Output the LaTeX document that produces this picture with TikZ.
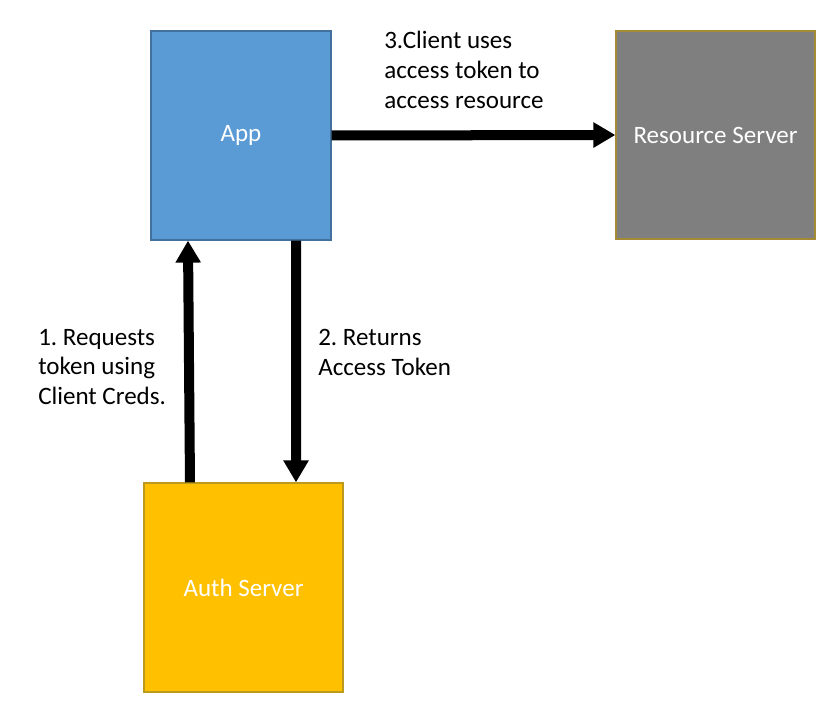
\documentclass[tikz,border=0pt]{standalone}
\usepackage{fontspec}
\setmainfont{Carlito}
\frenchspacing
\usetikzlibrary{arrows.meta}
\definecolor{appblue}{HTML}{5B9BD5}
\definecolor{appedge}{HTML}{41719C}
\definecolor{resgray}{HTML}{7F7F7F}
\definecolor{resedge}{HTML}{A58A35}
\definecolor{authgold}{HTML}{FFC000}
\definecolor{authedge}{HTML}{BC9A1C}
\begin{document}
\begin{tikzpicture}[x = 0.025cm, y = -0.025cm,
    box/.style = {draw, line width = 0.8pt, text = white, inner sep = 0pt,
        font = \fontsize{17.8}{21.3}\selectfont},
    note/.style = {anchor = west, align = left, inner sep = 0pt,
        font = \fontsize{17.8}{21.3}\selectfont},
    flow/.style = {line width = 0.25cm, -{Triangle[length = 0.55cm, width = 0.6cm]}}]
            \useasboundingbox[fill = white] (0,0) rectangle (826,714);
            \node[box, fill = appblue, draw = appedge, minimum width = 4.5cm, minimum height = 5.225cm] (app) at (241,135.5) {App};
            \node[box, fill = resgray, draw = resedge, minimum width = 4.975cm, minimum height = 5.2cm] (res) at (715.5,135) {Resource Server};
            \node[box, fill = authgold, draw = authedge, minimum width = 4.975cm, minimum height = 5.225cm] (auth) at (243.5,587.5) {Auth Server};

            \draw[flow] (app.east) -- (res.west);
            \draw[flow] ([xshift = -1.3375cm]auth.north) -- ([xshift = -1.325cm]app.south);
            \draw[flow] ([xshift = 1.375cm]app.south) -- ([xshift = 1.3125cm]auth.north);

            \node[note] (useNote) at (384,70) {3.Client uses\\access token to\\access resource};
            \node[note] (reqNote) at (38,367) {1. Requests\\token using\\Client Creds.};
            \node[note] (retNote) at (318,352) {2. Returns\\Access Token};
        \end{tikzpicture}
\end{document}
